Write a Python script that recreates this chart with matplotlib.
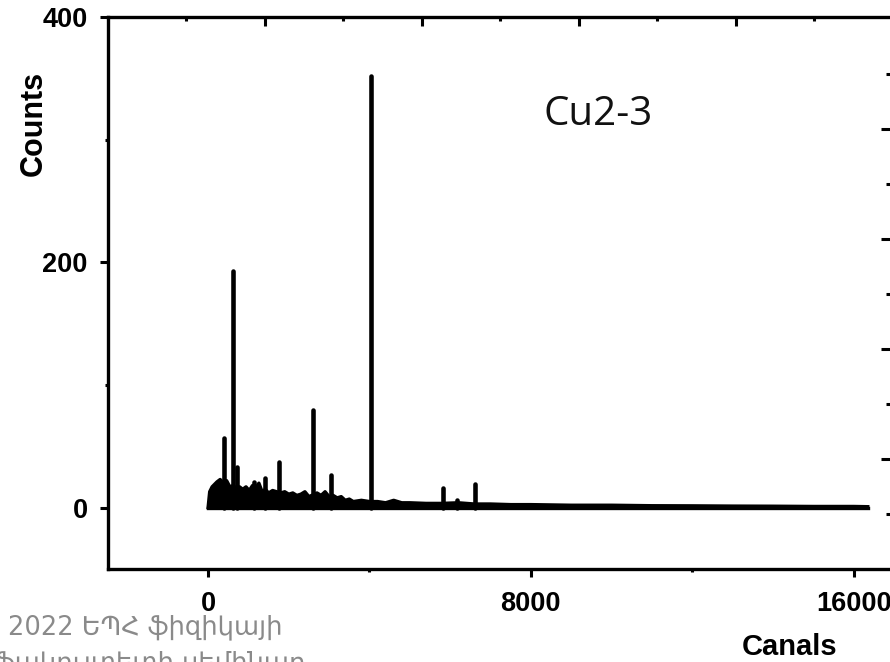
import matplotlib
matplotlib.use("Agg")
import matplotlib.pyplot as plt
from matplotlib.ticker import FixedLocator, NullFormatter

# ---- data ----
# upper edge of the noisy low-energy background (counts) per channel
band_ch = [0, 40, 100, 160, 220, 300, 380, 460, 540, 620,
           700, 780, 860, 940, 1020, 1100, 1180, 1260, 1340, 1420,
           1500, 1600, 1700, 1800, 1900, 2000, 2100, 2200, 2300, 2400,
           2500, 2700, 2800, 2900, 3000, 3100, 3200, 3300, 3400, 3500,
           3600, 3800, 4000, 4200, 4400, 4600, 4800, 5000, 5400, 5800,
           6200, 6600, 7000, 7500, 8000, 9000, 10000, 11000, 12000, 13000,
           14000, 15000, 16000, 16350]
band_hi = [0, 13, 17, 19, 21, 23, 20, 22, 17, 18,
           16, 17, 15, 17, 14, 18, 16, 20, 13, 15,
           12, 14, 13, 12, 13, 11, 12, 10, 11, 13,
           9, 12, 10, 13, 9, 10, 8, 9, 6, 7,
           5, 6, 5, 5, 4, 6, 4, 4, 3.5, 3.5,
           4, 3, 3, 2.5, 2.5, 2, 2, 1.6, 1.5, 1.3,
           1.2, 1, 1, 0.8]
# isolated peaks: channel and height (counts)
peak_ch = [396, 619, 718, 1140, 1412, 1760, 2600, 3047, 4050, 5821, 6170, 6614]
peak_h = [57, 193, 33, 21, 24, 37, 80, 27, 352, 16, 6, 19]

x_major = [0, 8000, 16000]
x_minor = [4000, 12000]
y_major = [0, 200, 400]
y_minor = [100, 300]

sample_label = "Cu2-3"
footer1 = "2022 ԵՊՀ ֆիզիկայի"
footer2 = "ֆակուլտետի սեմինար"

W, H = 890, 662
fig = plt.figure(figsize=(W / 100, H / 100), dpi=100)
fig.patch.set_facecolor("white")

L, R, T, B = 108, 892, 17, 569
ax = fig.add_axes([L / W, 1 - B / H, (R - L) / W, (B - T) / H])
ax.set_xlim(-2480, 16950)
ax.set_ylim(-50, 400)

# spectrum
ax.fill_between(band_ch, 0, band_hi, color="black", lw=0)
ax.plot(band_ch, band_hi, color="black", lw=2.4, solid_joinstyle="round")
ax.plot([band_ch[0], band_ch[-1]], [0, 0], color="black", lw=2.4)
ax.vlines(peak_ch, 0, peak_h, color="black", lw=3.3, capstyle="round")

for s in ax.spines.values():
    s.set_linewidth(2.4)
ax.spines["right"].set_visible(False)
ax.spines["top"].set_visible(False)

TICKFONT = "Liberation Sans"
ax.xaxis.set_major_locator(FixedLocator(x_major))
ax.xaxis.set_minor_locator(FixedLocator(x_minor))
ax.yaxis.set_major_locator(FixedLocator(y_major))
ax.yaxis.set_minor_locator(FixedLocator(y_minor))
ax.tick_params(which="both", direction="out", width=2.2, top=False, right=False)
ax.tick_params(which="major", length=6.0, labelsize=19.5, pad=8.5)
ax.tick_params(which="minor", length=2.5)
ax.tick_params(axis="x", which="major", pad=9.5)
for lab in ax.get_xticklabels() + ax.get_yticklabels():
    lab.set_fontweight("bold")
    lab.set_family(TICKFONT)

# opposite axes with their own tick spacing (top and right)
axt = ax.twiny()
axt.set_xlim(0, 4.994)
axt.xaxis.set_major_locator(FixedLocator([1, 2, 3, 4]))
axt.xaxis.set_minor_locator(FixedLocator([0.5, 1.5, 2.5, 3.5, 4.5]))
axt.xaxis.set_major_formatter(NullFormatter())
axt.tick_params(which="both", direction="in", width=2.2)
axt.tick_params(which="major", length=6.5)
axt.tick_params(which="minor", length=3)
for k in ["left", "right", "bottom"]:
    axt.spines[k].set_visible(False)
axt.spines["top"].set_linewidth(2.4)

axr = ax.twinx()
axr.set_ylim(0, 5.02)
axr.yaxis.set_major_locator(FixedLocator([1, 2, 3, 4]))
axr.yaxis.set_minor_locator(FixedLocator([0.5, 1.5, 2.5, 3.5, 4.5]))
axr.yaxis.set_major_formatter(NullFormatter())
axr.tick_params(which="both", direction="in", width=2.2)
axr.tick_params(which="major", length=8)
axr.tick_params(which="minor", length=4)
for k in ["left", "top", "bottom"]:
    axr.spines[k].set_visible(False)
axr.spines["right"].set_linewidth(2.4)

# labels
fig.text(34 / W, 1 - 123 / H, "Counts", rotation=90, ha="center", va="center",
         fontsize=22, fontweight="bold", family=TICKFONT)
fig.text(790 / W, 1 - 647 / H, "Canals", ha="center", va="center",
         fontsize=21, fontweight="bold", family=TICKFONT)
fig.text(544 / W, 1 - 125 / H, sample_label, ha="left", va="baseline",
         fontsize=29, family="Open Sans", color="#111111")

fig.text(8 / W, 1 - 634 / H, footer1, ha="left", va="baseline",
         fontsize=18.5, family="DejaVu Sans", color="#8a8a8a")
fig.text(-6 / W, 1 - 670 / H, footer2, ha="left", va="baseline",
         fontsize=18.5, family="DejaVu Sans", color="#8a8a8a")

fig.savefig("out.png", dpi=100)
